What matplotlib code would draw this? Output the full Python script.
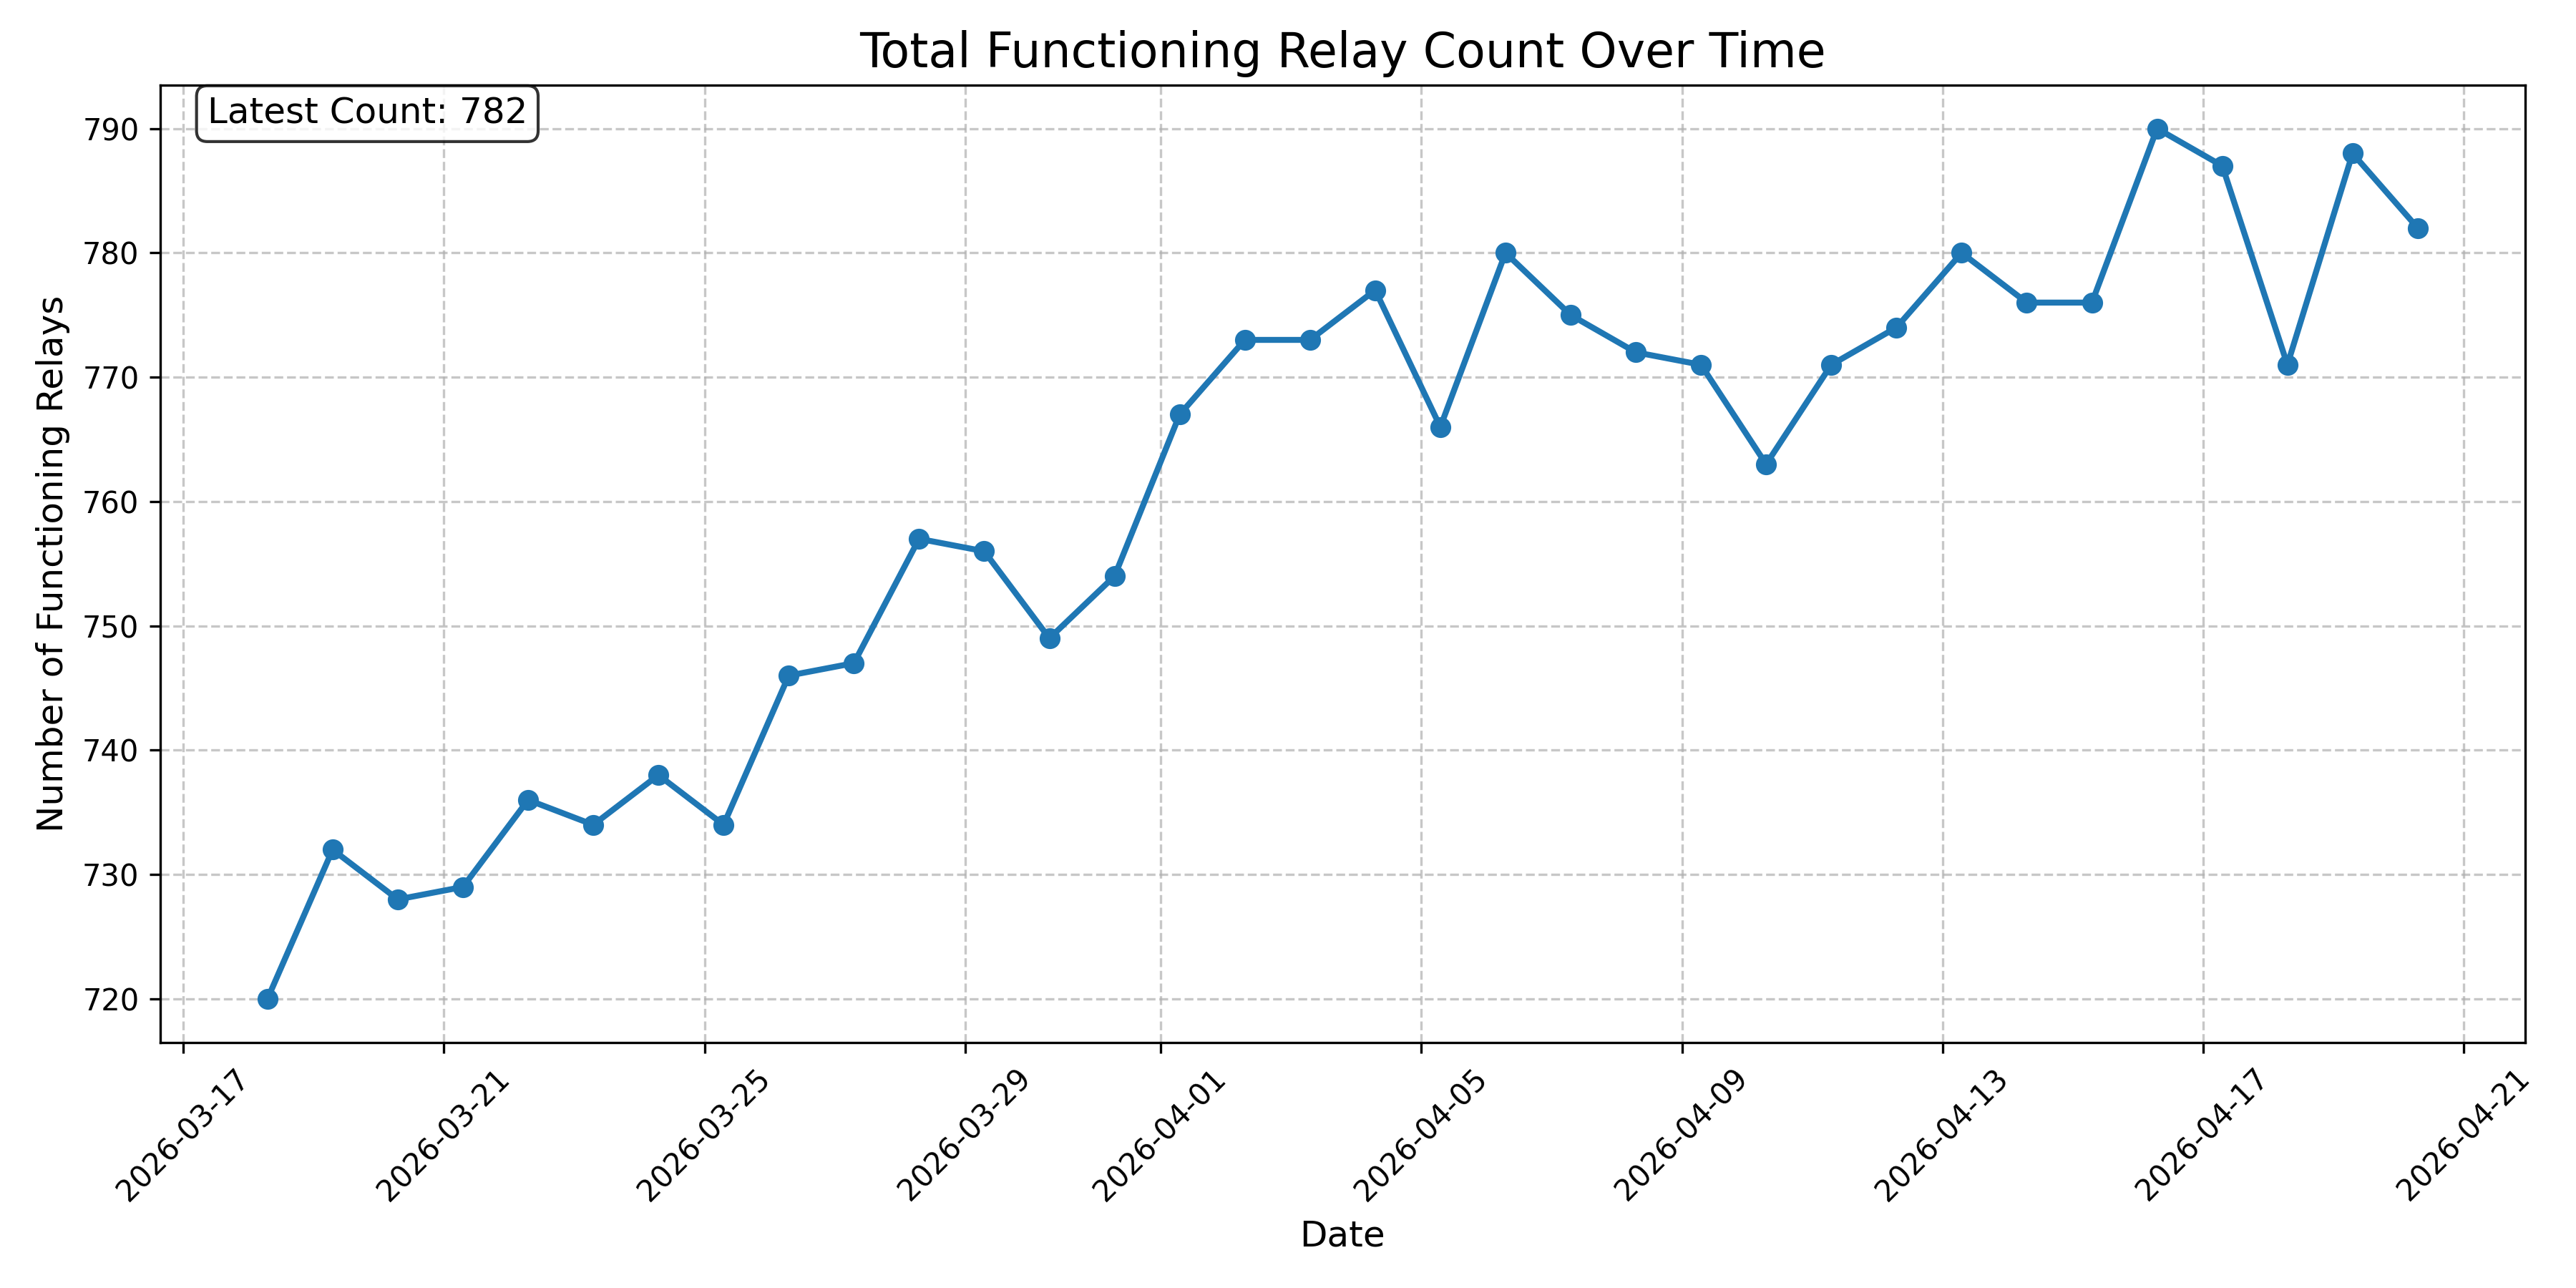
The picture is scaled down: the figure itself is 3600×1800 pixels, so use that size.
import pandas as pd
import matplotlib
matplotlib.use("Agg")
import matplotlib.pyplot as plt

# daily relay counts, 2026-03-18 .. 2026-04-20
start_date = "2026-03-18 07:00"
counts = [
    720, 732, 728, 729, 736, 734, 738, 734, 746, 747,
    757, 756, 749, 754, 767, 773, 773, 777, 766, 780,
    775, 772, 771, 763, 771, 774, 780, 776, 776, 790,
    787, 771, 788, 782,
]
dates = pd.date_range(start_date, periods=len(counts), freq="D")

fig, ax = plt.subplots(figsize=(12, 6), dpi=300)
ax.plot(dates, counts, marker="o", linestyle="-", linewidth=2, markersize=6, color="#1f77b4")

ax.set_title("Total Functioning Relay Count Over Time", fontsize=16)
ax.set_xlabel("Date", fontsize=12)
ax.set_ylabel("Number of Functioning Relays", fontsize=12)
ax.grid(True, linestyle="--", alpha=0.7)
plt.xticks(rotation=45)

ax.text(
    0.02, 0.988, f"Latest Count: {counts[-1]}",
    transform=ax.transAxes, fontsize=12, verticalalignment="top",
    bbox=dict(boxstyle="round", facecolor="white", alpha=0.8),
)

fig.subplots_adjust(left=0.0621, right=0.9803, top=0.934, bottom=0.1907)
plt.savefig("out.png", dpi=300)
